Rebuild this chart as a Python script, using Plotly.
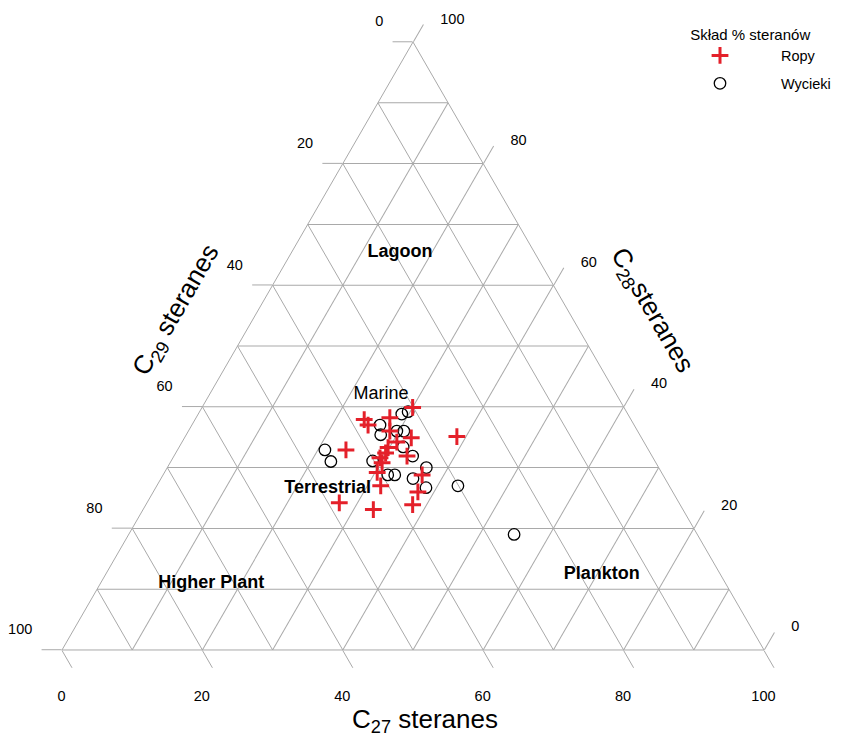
import plotly.graph_objects as go

# ---- data (C27, C28, C29 sterane %) ----
ropy_c27 = [30.0, 24.1, 25.1, 27.6, 28.7, 24.0, 32.3, 30.6, 29.8, 29.9, 29.5,
            30.2, 30.3, 33.2, 31.9, 27.4, 32.8, 38.0, 37.7, 38.7, 36.9]
ropy_c28 = [39.9, 37.9, 37.0, 38.2, 36.0, 32.9, 34.9, 34.2, 33.3, 32.4, 31.6,
            30.8, 29.2, 31.9, 27.0, 24.2, 23.1, 23.9, 26.0, 35.1, 28.8]
ropy_c29 = [30.1, 38.0, 37.9, 34.2, 35.3, 43.1, 32.8, 35.2, 36.9, 37.7, 38.9,
            39.0, 40.5, 34.9, 41.1, 48.4, 44.1, 38.1, 36.3, 26.2, 34.3]

wycieki_c27 = [29.0, 29.7, 26.8, 27.7, 29.7, 30.7, 31.9, 21.0, 22.8, 28.7, 32.0,
               33.0, 34.0, 35.9, 36.9, 38.5, 42.9, 54.9]
wycieki_c28 = [38.8, 39.2, 37.0, 35.4, 36.0, 36.0, 33.4, 32.9, 31.0, 31.1, 28.8,
               28.8, 31.9, 28.2, 30.0, 26.7, 27.0, 19.0]
wycieki_c29 = [32.2, 31.1, 36.2, 36.9, 34.3, 33.3, 34.7, 46.1, 46.2, 40.2, 39.2,
               38.2, 34.1, 35.9, 33.1, 34.8, 30.1, 26.1]

region_names = ["<b>Lagoon</b>", "Marine", "<b>Terrestrial</b>", "<b>Higher Plant</b>", "<b>Plankton</b>"]
region_c27 = [15.5, 24.4, 24.6, 15.8, 70.7]
region_c28 = [65.3, 42.1, 26.5, 10.9, 12.4]
region_c29 = [19.2, 33.5, 48.9, 73.3, 16.9]

tick_vals = [0, 20, 40, 60, 80, 100]
tick_labels = ["100", "80", "60", "40", "20", "0"]   # each side reads the opposite component

series_names = ["Ropy", "Wycieki"]
legend_title = "Skład % steranów"
title_c27 = "C<sub>27</sub> steranes"
title_c29 = "C<sub>29</sub> steranes"
title_c28 = "C<sub>28</sub>steranes"

FONT = "Liberation Sans, Arial, Helvetica, sans-serif"
GRID = "#a9a9a9"
RED = "#e4202a"
NB = "\u00a0"
W, H = 850, 737          # figure size (page has an 8px body margin)


def px(xp):
    return (xp - 8) / W


def py(yp):
    return 1 - (yp - 8) / H


fig = go.Figure()

# region labels (bottom layer)
fig.add_trace(go.Scatterternary(
    a=region_c28, b=region_c29, c=region_c27, text=region_names,
    mode="text", textfont=dict(family=FONT, size=18, color="black"),
    showlegend=False, hoverinfo="skip", subplot="ternary"))

fig.add_trace(go.Scatterternary(
    a=wycieki_c28, b=wycieki_c29, c=wycieki_c27, name=series_names[1],
    mode="markers", legendgroup="w",
    marker=dict(symbol="circle-open", size=11.5, color="black",
                line=dict(width=1.3, color="black")),
    subplot="ternary2", legendrank=2))

fig.add_trace(go.Scatterternary(
    a=ropy_c28, b=ropy_c29, c=ropy_c27, name=series_names[0],
    mode="markers", legendgroup="r",
    marker=dict(symbol="cross-thin", size=12, color=RED,
                line=dict(width=3, color=RED)),
    subplot="ternary3", legendrank=1))

dom = dict(x=[px(62), px(764)], y=[py(650.5), py(41.5)])


def grid_axis():
    return dict(dtick=10, tick0=0, showgrid=True, gridcolor=GRID, gridwidth=1,
                showline=True, linecolor=GRID, linewidth=1, ticks="",
                showticklabels=False, title=dict(text=""))


def tick_axis():
    return dict(tickmode="array", tickvals=tick_vals, showgrid=False, showline=False,
                ticks="outside", ticklen=20, tickcolor=GRID, tickwidth=1,
                showticklabels=False, title=dict(text=""))


def label_axis(texts, ticklen):
    return dict(tickmode="array", tickvals=tick_vals, ticktext=texts,
                showgrid=False, showline=False,
                ticks="outside", ticklen=ticklen, tickcolor="rgba(0,0,0,0)",
                showticklabels=True,
                tickfont=dict(family=FONT, size=14.5, color="black"),
                title=dict(text=""))


left_texts = [t + "<br>" + NB + "<br>" + NB for t in tick_labels]
bottom_texts = ["<br>" + t + NB * 4 for t in tick_labels]
right_texts = [NB * 3 + t for t in tick_labels]

fig.update_layout(
    width=W, height=H,
    margin=dict(l=0, r=0, t=0, b=0),
    paper_bgcolor="white",
    font=dict(family=FONT, color="black"),
    ternary=dict(sum=100, domain=dom, bgcolor="white",
                 aaxis=grid_axis(), baxis=grid_axis(), caxis=grid_axis()),
    ternary2=dict(sum=100, domain=dom, bgcolor="rgba(0,0,0,0)",
                  aaxis=tick_axis(), baxis=tick_axis(), caxis=tick_axis()),
    ternary3=dict(sum=100, domain=dom, bgcolor="rgba(0,0,0,0)",
                  aaxis=label_axis(left_texts, 27),
                  baxis=label_axis(bottom_texts, 15),
                  caxis=label_axis(right_texts, 25)),
    legend=dict(x=px(659), y=py(20), xanchor="left", yanchor="top",
                title=dict(text=NB * 7 + legend_title, font=dict(family=FONT, size=15)),
                font=dict(family=FONT, size=14.5), itemwidth=112,
                bgcolor="rgba(0,0,0,0)", tracegroupgap=6),
    annotations=[
        dict(text=title_c27, x=px(425), y=py(720), xref="paper", yref="paper",
             xanchor="center", yanchor="middle",
             showarrow=False, font=dict(family=FONT, size=26, color="black")),
        dict(text=title_c29, x=px(176), y=py(310), xref="paper", yref="paper",
             xanchor="center", yanchor="middle",
             showarrow=False, textangle=-60, font=dict(family=FONT, size=26, color="black")),
        dict(text=title_c28, x=px(652), y=py(310), xref="paper", yref="paper",
             xanchor="center", yanchor="middle",
             showarrow=False, textangle=60, font=dict(family=FONT, size=26, color="black")),
    ],
)

fig.write_html("out.html")
